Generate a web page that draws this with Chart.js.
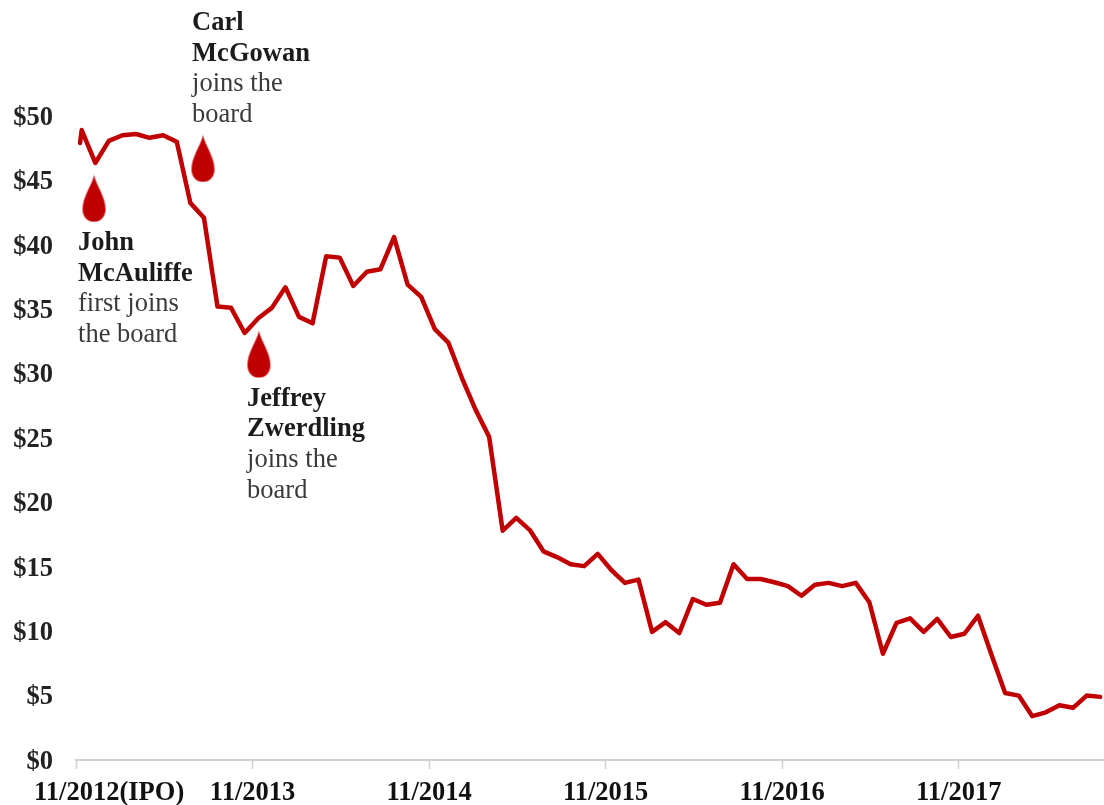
<!DOCTYPE html>
<html><head><meta charset="utf-8">
<style>html,body{margin:0;padding:0;background:#fff}canvas{display:block;filter:blur(0.5px)}</style>
<script src="https://cdn.jsdelivr.net/npm/chart.js@4"></script></head>
<body><canvas id="c" width="1104" height="805"></canvas>
<script>
const tickMonths = [0, 13, 26, 39, 52, 65];
const tickLabels = ["          11/2012(IPO)", "11/2013", "11/2014", "11/2015", "11/2016", "11/2017"];
const priceValues = [47.9,48.9,46.35,48.06,48.5,48.6,48.3,48.5,48.0,43.25,42.1,35.2,35.1,33.15,34.3,35.1,36.7,34.4,33.9,39.1,39.0,36.8,37.9,38.1,40.6,36.9,35.95,33.45,32.4,29.65,27.2,25.1,17.8,18.8,17.85,16.2,15.75,15.2,15.05,16.0,14.75,13.75,14.0,9.95,10.7,9.85,12.5,12.05,12.2,15.2,14.05,14.05,13.8,13.5,12.75,13.6,13.75,13.5,13.75,12.25,8.25,10.65,11.0,9.95,10.95,9.55,9.8,11.2,8.15,5.2,5.0,3.4,3.7,4.25,4.05,5.0,4.9];
const dropX = [1.33, 9.35, 13.47];
const dropY = [43.6, 46.7, 31.5];
const noteNames = [["John","McAuliffe"],["Carl","McGowan"],["Jeffrey","Zwerdling"]];
const noteBodies = [["first joins","the board"],["joins the","board"],["joins the","board"]];
const noteX = [0.15, 8.55, 12.6];
const noteTopY = [40.13, 57.2, 28.04];

const FONT = '"Liberation Serif","Times New Roman",serif';
const RED = '#c00000';

function dropImage(){
  const c=document.createElement('canvas');c.width=25;c.height=48;
  const g=c.getContext('2d');g.fillStyle=RED;g.beginPath();
  g.moveTo(12.5,0.5);
  g.bezierCurveTo(14.5,11,24,22,24,35);
  g.bezierCurveTo(24,43,18.5,47.5,12.5,47.5);
  g.bezierCurveTo(6.5,47.5,1,43,1,35);
  g.bezierCurveTo(1,22,10.5,11,12.5,0.5);
  g.fill();return c;
}

const linePoints = priceValues.map((v,i)=>({x: i===0 ? 0.3 : i-1+0.42, y:v}));
const dropPoints = dropX.map((x,i)=>({x, y:dropY[i]}));

const notesPlugin = {
  id:'notes',
  afterDatasetsDraw(chart){
    const {ctx,scales:{x,y}}=chart;
    ctx.save();ctx.textBaseline='middle';ctx.textAlign='left';
    noteNames.forEach((names,i)=>{
      const px=x.getPixelForValue(noteX[i]);
      let py=y.getPixelForValue(noteTopY[i]);
      ctx.font='bold 26.5px '+FONT;ctx.fillStyle='#1c1c1c';
      names.forEach(t=>{ctx.fillText(t,px,py);py+=30.6;});
      ctx.font='26.5px '+FONT;ctx.fillStyle='#3a3a3a';
      noteBodies[i].forEach(t=>{ctx.fillText(t,px,py);py+=30.6;});
    });
    ctx.restore();
  }
};

new Chart(document.getElementById('c'),{
  type:'line',
  data:{datasets:[
    {data:linePoints,borderColor:RED,borderWidth:4.5,pointRadius:0,tension:0,fill:false,borderJoinStyle:'round',borderCapStyle:'round'},
    {data:dropPoints,showLine:false,pointStyle:dropImage(),pointRadius:20,pointBackgroundColor:RED,pointBorderWidth:0}
  ]},
  plugins:[notesPlugin],
  options:{
    responsive:false,animation:false,devicePixelRatio:1,
    layout:{padding:0,autoPadding:false},
    plugins:{legend:{display:false},tooltip:{enabled:false},title:{display:false}},
    events:[],
    scales:{
      x:{type:'linear',min:0,max:75.7,
        afterBuildTicks(s){s.ticks=tickMonths.map(v=>({value:v}));},
        afterFit(s){s.height=45;s.paddingLeft=0;s.paddingRight=0;},
        border:{display:true,color:'#d2d2d2',width:2},
        grid:{display:true,drawOnChartArea:false,drawTicks:true,tickLength:9,tickWidth:1.5,tickColor:'#d2d2d2'},
        ticks:{autoSkip:false,maxRotation:0,minRotation:0,padding:8,color:'#111',font:{family:FONT,size:26.5,weight:'bold'},
          callback(v){const k=tickMonths.indexOf(v);return k<0?'':tickLabels[k];}}
      },
      y:{type:'linear',min:0,max:59,
        afterBuildTicks(s){s.ticks=s.ticks.filter(t=>t.value<=50);},
        afterFit(s){s.width=76;s.paddingTop=0;s.paddingBottom=0;},
        border:{display:false},
        grid:{display:false,drawTicks:false},
        ticks:{stepSize:5,padding:23,labelOffset:2,color:'#222',font:{family:FONT,size:26.5,weight:'bold'},callback:v=>'$'+v}
      }
    }
  }
});
</script></body></html>
